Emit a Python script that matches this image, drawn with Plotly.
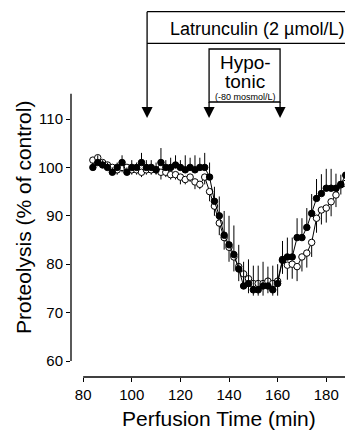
import plotly.graph_objects as go

# ---------------- data ----------------
time_min = list(range(84, 191, 2))

filled_vals = [100, 101, 100.5, 100, 99, 100, 101, 99, 100, 100,
               101, 100, 100, 99.5, 101, 100, 100, 100.5, 100, 99.5,
               100, 99.5, 100, 100, 98, 93, 90, 86, 84, 82,
               79, 75.5, 76, 74.7, 74.7, 75.5, 75.5, 74.7, 76, 80.8,
               81.5, 81.5, 85.5, 85.5, 87.6, 90.5, 93.6, 94.6, 95.7, 95.7,
               95.7, 96.5, 98.4, 100.5]
filled_err = [1, 1.5, 1, 1, 1, 1, 1.5, 1, 1.5, 1,
              2, 1.5, 1.5, 1.5, 3, 1.5, 2, 2, 1.5, 3,
              2, 3, 2, 3, 3, 3, 4, 5, 6, 6,
              5, 5, 5, 5, 5, 5, 4, 5, 4, 4,
              4, 4, 4, 4, 4, 4, 4, 4, 4, 4,
              3, 2, 2, 2]

open_vals = [101.5, 102, 101, 100.5, 100, 99.5, 100, 100, 99.5, 99.5,
             99, 99.5, 99.5, 99.5, 99, 99, 98.5, 98.5, 98, 97.5,
             98, 97, 96.5, 98, 95, 92, 88.5, 85.5, 83.5, 81.5,
             79.5, 78, 77, 76, 76, 76, 76.5, 76, 76.5, 81,
             79.8, 80, 79.5, 81.5, 82.3, 84.5, 89.5, 91.2, 91.6, 92.9,
             94.3, 96.4, 96.7, 96.7]
open_err = [1, 1, 1, 1, 1, 1, 1, 1, 1, 1,
            1, 1, 1, 1, 1.5, 1, 1, 1, 1.5, 1,
            1, 1.5, 1, 1.5, 2, 2, 2.5, 2.5, 3, 3,
            3, 3, 3, 2.5, 2.5, 2.5, 2.5, 2.5, 3, 3,
            3, 3, 3, 3, 3, 3, 3, 3, 3, 3,
            2.5, 2, 2, 1.5]

x_ticks = [80, 100, 120, 140, 160, 180]
y_ticks = [60, 70, 80, 90, 100, 110]

latrunculin_start = 106.3
hypotonic_start = 131.8
hypotonic_end = 161.0

# ---------------- figure geometry ----------------
# page body has an 8px margin, so the figure is drawn 8px smaller
OFF = 8
W, H = 353 - OFF, 431 - OFF
ML, MR, MT, MB = 71 - OFF, 0, 0, 54
PH = H - MT - MB
PW = W - ML - MR


def py(p):
    """reference pixel row -> paper y"""
    return (PH - (p - OFF)) / PH


def px(p):
    """reference pixel column -> paper x"""
    return ((p - OFF) - ML) / PW


FONT = "Liberation Sans, Arial, Helvetica, sans-serif"

fig = go.Figure()

fig.add_trace(go.Scatter(
    x=time_min, y=open_vals, mode="lines+markers",
    line=dict(color="black", width=1),
    marker=dict(symbol="circle", size=6.5, color="white",
                line=dict(color="black", width=1)),
    error_y=dict(type="data", symmetric=False, array=[0] * len(open_err),
                 arrayminus=open_err, color="black", thickness=1, width=0),
    showlegend=False, cliponaxis=False,
))
fig.add_trace(go.Scatter(
    x=time_min, y=filled_vals, mode="lines+markers",
    line=dict(color="black", width=1),
    marker=dict(symbol="circle", size=6.5, color="black",
                line=dict(color="black", width=1)),
    error_y=dict(type="data", symmetric=False, array=filled_err,
                 arrayminus=[0] * len(filled_err), color="black",
                 thickness=1, width=0),
    showlegend=False, cliponaxis=False,
))

# y range: value 60 at ref row 361, 4.84 px per unit
y_top = 60 + (361 - OFF) / 4.84
y_bot = 60 - (377 - 361) / 4.84

fig.update_xaxes(range=[75, 191], tickvals=x_ticks, ticks="outside",
                 ticklen=4, tickwidth=1, tickcolor="black", showgrid=False,
                 zeroline=False, showline=False,
                 tickfont=dict(family=FONT, size=15, color="black"))
fig.update_yaxes(range=[y_bot, y_top], tickvals=y_ticks, ticks="outside",
                 ticklen=4, tickwidth=1, tickcolor="black", showgrid=False,
                 zeroline=False, showline=False,
                 tickfont=dict(family=FONT, size=15, color="black"))

LW = 1.3
shapes = [
    # y axis line
    dict(type="line", xref="paper", yref="y", x0=0, x1=0, y0=60, y1=115.2,
         line=dict(color="black", width=LW)),
    # x axis line
    dict(type="line", xref="x", yref="paper", x0=80, x1=191, y0=0, y1=0,
         line=dict(color="black", width=LW)),
    # latrunculin bar
    dict(type="line", xref="x", yref="paper", x0=latrunculin_start, x1=191,
         y0=py(11.7), y1=py(11.7), line=dict(color="black", width=LW)),
    dict(type="line", xref="x", yref="paper", x0=latrunculin_start, x1=191,
         y0=py(43.3), y1=py(43.3), line=dict(color="black", width=LW)),
    dict(type="line", xref="x", yref="paper", x0=latrunculin_start,
         x1=latrunculin_start, y0=py(11.7), y1=py(110),
         line=dict(color="black", width=LW)),
    # hypotonic box
    dict(type="rect", xref="x", yref="paper", x0=hypotonic_start,
         x1=hypotonic_end, y0=py(49), y1=py(102),
         line=dict(color="black", width=LW), fillcolor="rgba(0,0,0,0)"),
    dict(type="line", xref="x", yref="paper", x0=hypotonic_start,
         x1=hypotonic_start, y0=py(102), y1=py(110),
         line=dict(color="black", width=LW)),
    dict(type="line", xref="x", yref="paper", x0=hypotonic_end,
         x1=hypotonic_end, y0=py(102), y1=py(110),
         line=dict(color="black", width=LW)),
]
fig.update_layout(shapes=shapes)

# arrow heads (filled triangles)
for xc in (latrunculin_start, hypotonic_start, hypotonic_end):
    fig.add_annotation(x=xc, y=py(118), xref="x", yref="paper", text="",
                       showarrow=True, ax=0, ay=-12, arrowhead=2,
                       arrowsize=1.7, arrowwidth=1.3, arrowcolor="black",
                       standoff=0)

ann = [
    dict(text="Latrunculin (2 µmol/L)", x=257, y=29, size=18),
    dict(text="Hypo-", x=245, y=62.5, size=19),
    dict(text="tonic", x=245, y=81.5, size=19),
    dict(text="(-80 mosmol/L)", x=245, y=97.3, size=9),
]
for a in ann:
    fig.add_annotation(text=a["text"], x=px(a["x"]), y=py(a["y"]),
                       xref="paper", yref="paper",
                       showarrow=False, xanchor="center", yanchor="middle",
                       font=dict(family=FONT, size=a["size"], color="black"))

fig.add_annotation(text="Proteolysis (% of control)", textangle=-90,
                   x=px(23), y=py(218), xref="paper",
                   yref="paper", showarrow=False, xanchor="center",
                   yanchor="middle",
                   font=dict(family=FONT, size=21, color="black"))
fig.add_annotation(text="Perfusion Time (min)", x=px(219),
                   y=py(418), xref="paper", yref="paper", showarrow=False,
                   xanchor="center", yanchor="middle",
                   font=dict(family=FONT, size=21, color="black"))

fig.update_layout(width=W, height=H,
                  margin=dict(l=ML, r=MR, t=MT, b=MB, pad=0),
                  paper_bgcolor="white", plot_bgcolor="white")

fig.write_html("out.html")
